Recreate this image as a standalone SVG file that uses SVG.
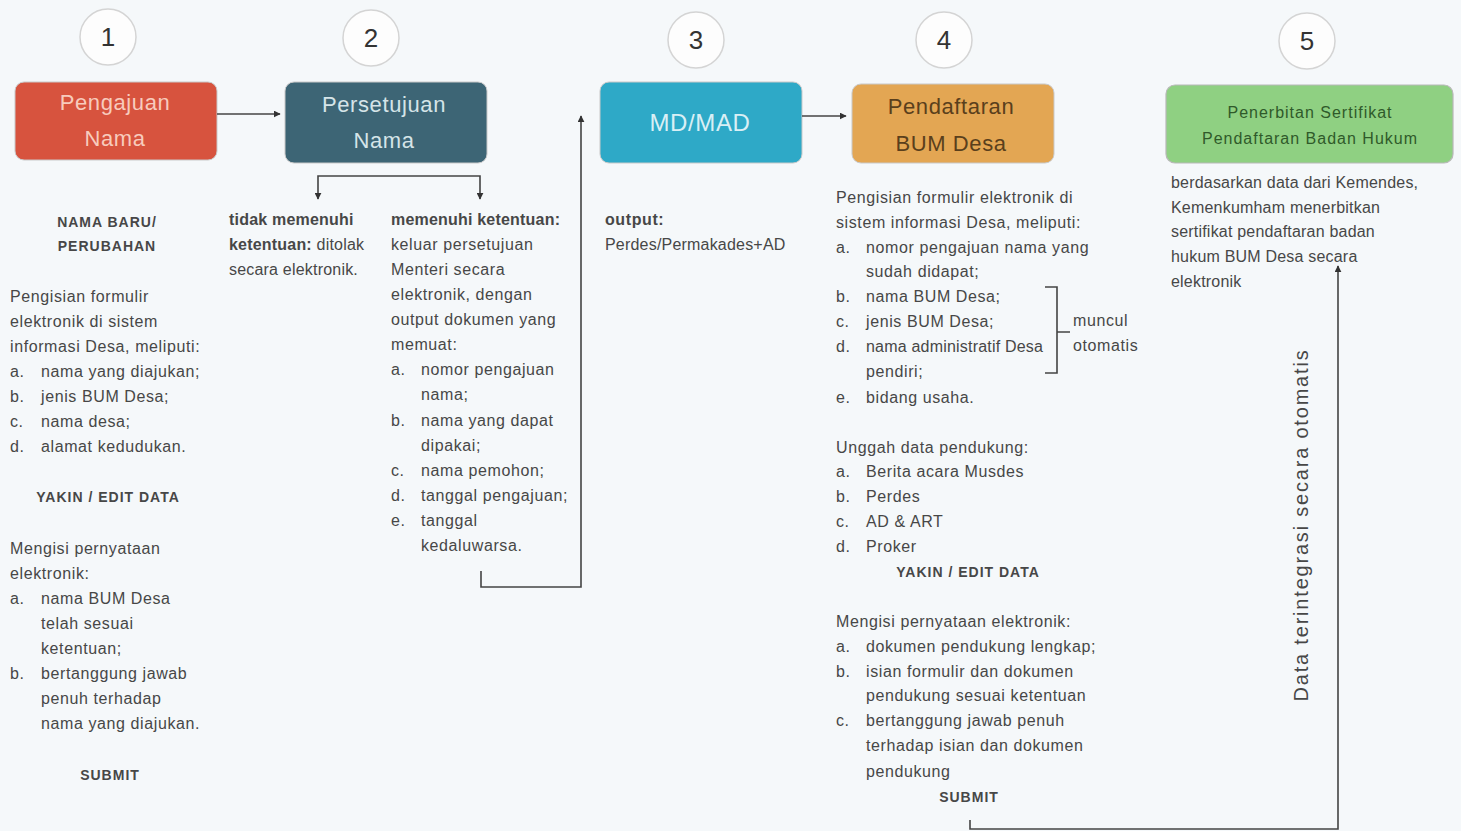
<svg xmlns="http://www.w3.org/2000/svg" width="1461" height="831" viewBox="0 0 1461 831">
<defs>
<style>
.t{font-family:"Liberation Sans",Arial,sans-serif;font-size:16px;letter-spacing:0.6px;fill:#474747}
.b{font-weight:bold}
.h{font-size:14px;letter-spacing:1px;font-weight:bold;text-anchor:middle}
.c{text-anchor:middle}
.num{font-family:"Liberation Sans",Arial,sans-serif;font-size:26px;fill:#333;text-anchor:middle}
.circ{fill:#fdfdfd;stroke:#d4d4d4;stroke-width:1.5}
.nt{font-family:"Liberation Sans",Arial,sans-serif;font-size:22px;letter-spacing:0.6px;text-anchor:middle}
.ln{fill:none;stroke:#444;stroke-width:1.6}
</style>
<marker id="ah" viewBox="0 0 10 10" refX="9" refY="5" markerWidth="7" markerHeight="7" orient="auto-start-reverse" markerUnits="userSpaceOnUse">
<path d="M0,0 L10,5 L0,10 z" fill="#333"/>
</marker>
</defs>
<rect width="1461" height="831" fill="#f5f8fa"/>

<g id="badges">
<circle class="circ" cx="108" cy="37" r="28"/><text class="num" x="108" y="46">1</text>
<circle class="circ" cx="371" cy="38" r="28"/><text class="num" x="371" y="47">2</text>
<circle class="circ" cx="696" cy="40" r="28"/><text class="num" x="696" y="49">3</text>
<circle class="circ" cx="944" cy="40" r="28"/><text class="num" x="944" y="49">4</text>
<circle class="circ" cx="1307" cy="41" r="28"/><text class="num" x="1307" y="50">5</text>
</g>

<g id="node1">
<rect x="15" y="82" width="202" height="78" rx="9" fill="#d7533e" stroke="#c9c9c9" stroke-width="1"/>
<text class="nt" x="115" y="110" fill="#f7cbbd">Pengajuan</text>
<text class="nt" x="115" y="146" fill="#f7cbbd">Nama</text>
</g>
<g id="node2">
<rect x="285" y="82" width="202" height="81" rx="9" fill="#3d6575" stroke="#c9c9c9" stroke-width="1"/>
<text class="nt" x="384" y="112" fill="#d5e4e8">Persetujuan</text>
<text class="nt" x="384" y="148" fill="#d5e4e8">Nama</text>
</g>
<g id="node3">
<rect x="600" y="82" width="202" height="81" rx="9" fill="#2ea9c7" stroke="#c9c9c9" stroke-width="1"/>
<text class="nt" x="700" y="131" fill="#d9eff5" style="font-size:24px">MD/MAD</text>
</g>
<g id="node4">
<rect x="852" y="84" width="202" height="79" rx="9" fill="#e3a653" stroke="#c9c9c9" stroke-width="1"/>
<text class="nt" x="951" y="114" fill="#5a3f1c">Pendaftaran</text>
<text class="nt" x="951" y="151" fill="#5a3f1c">BUM Desa</text>
</g>
<g id="node5">
<rect x="1166" y="85" width="287" height="78" rx="9" fill="#8fd082" stroke="#b8b8b8" stroke-width="1.2"/>
<text class="nt" x="1310" y="118" fill="#2f5a2a" style="font-size:16px;letter-spacing:1px">Penerbitan Sertifikat</text>
<text class="nt" x="1310" y="144" fill="#2f5a2a" style="font-size:16px;letter-spacing:1px">Pendaftaran Badan Hukum</text>
</g>

<g id="connectors">
<line class="ln" x1="217" y1="114" x2="280" y2="114" marker-end="url(#ah)"/>
<line class="ln" x1="802" y1="116" x2="846" y2="116" marker-end="url(#ah)"/>
<path class="ln" d="M318,199 V176 H480 V199" marker-start="url(#ah)" marker-end="url(#ah)"/>
<path class="ln" d="M481,571 V587 H581 V116" marker-end="url(#ah)"/>
<path class="ln" d="M970,820 V829 H1338 V266" marker-end="url(#ah)"/>
<path class="ln" d="M1045,287 H1057 V373 H1045 M1057,332 H1070" stroke-width="1.3"/>
</g>

<g id="col1">
<text class="t h" x="107" y="227">NAMA BARU/</text>
<text class="t h" x="107" y="251">PERUBAHAN</text>
<text class="t" x="10" y="302">Pengisian formulir</text>
<text class="t" x="10" y="327">elektronik di sistem</text>
<text class="t" x="10" y="352">informasi Desa, meliputi:</text>
<text class="t" x="10" y="377">a.</text><text class="t" x="41" y="377">nama yang diajukan;</text>
<text class="t" x="10" y="402">b.</text><text class="t" x="41" y="402">jenis BUM Desa;</text>
<text class="t" x="10" y="427">c.</text><text class="t" x="41" y="427">nama desa;</text>
<text class="t" x="10" y="452">d.</text><text class="t" x="41" y="452">alamat kedudukan.</text>
<text class="t h" x="108" y="502">YAKIN / EDIT DATA</text>
<text class="t" x="10" y="554">Mengisi pernyataan</text>
<text class="t" x="10" y="579">elektronik:</text>
<text class="t" x="10" y="604">a.</text><text class="t" x="41" y="604">nama BUM Desa</text>
<text class="t" x="41" y="629">telah sesuai</text>
<text class="t" x="41" y="654">ketentuan;</text>
<text class="t" x="10" y="679">b.</text><text class="t" x="41" y="679">bertanggung jawab</text>
<text class="t" x="41" y="704">penuh terhadap</text>
<text class="t" x="41" y="729">nama yang diajukan.</text>
<text class="t h" x="110" y="780">SUBMIT</text>
</g>

<g id="col2">
<text class="t b" x="229" y="225" style="letter-spacing:0.2px">tidak memenuhi</text>
<text class="t" x="229" y="250" style="letter-spacing:0.2px"><tspan class="b">ketentuan:</tspan> ditolak</text>
<text class="t" x="229" y="275" style="letter-spacing:0.2px">secara elektronik.</text>
<text class="t b" x="391" y="225" style="letter-spacing:0.2px">memenuhi ketentuan:</text>
<text class="t" x="391" y="250">keluar persetujuan</text>
<text class="t" x="391" y="275">Menteri secara</text>
<text class="t" x="391" y="300">elektronik, dengan</text>
<text class="t" x="391" y="325">output dokumen yang</text>
<text class="t" x="391" y="350">memuat:</text>
<text class="t" x="391" y="375">a.</text><text class="t" x="421" y="375">nomor pengajuan</text>
<text class="t" x="421" y="400">nama;</text>
<text class="t" x="391" y="426">b.</text><text class="t" x="421" y="426">nama yang dapat</text>
<text class="t" x="421" y="451">dipakai;</text>
<text class="t" x="391" y="476">c.</text><text class="t" x="421" y="476">nama pemohon;</text>
<text class="t" x="391" y="501">d.</text><text class="t" x="421" y="501">tanggal pengajuan;</text>
<text class="t" x="391" y="526">e.</text><text class="t" x="421" y="526">tanggal</text>
<text class="t" x="421" y="551">kedaluwarsa.</text>
</g>

<g id="col3">
<text class="t b" x="605" y="225">output:</text>
<text class="t" x="605" y="250" style="letter-spacing:0.2px">Perdes/Permakades+AD</text>
</g>

<g id="col4">
<text class="t" x="836" y="203">Pengisian formulir elektronik di</text>
<text class="t" x="836" y="228">sistem informasi Desa, meliputi:</text>
<text class="t" x="836" y="253">a.</text><text class="t" x="866" y="253">nomor pengajuan nama yang</text>
<text class="t" x="866" y="277">sudah didapat;</text>
<text class="t" x="836" y="302">b.</text><text class="t" x="866" y="302">nama BUM Desa;</text>
<text class="t" x="836" y="327">c.</text><text class="t" x="866" y="327">jenis BUM Desa;</text>
<text class="t" x="836" y="352">d.</text><text class="t" x="866" y="352" style="letter-spacing:0.2px">nama administratif Desa</text>
<text class="t" x="866" y="377">pendiri;</text>
<text class="t" x="836" y="403">e.</text><text class="t" x="866" y="403">bidang usaha.</text>
<text class="t" x="1073" y="326">muncul</text>
<text class="t" x="1073" y="351">otomatis</text>
<text class="t" x="836" y="453">Unggah data pendukung:</text>
<text class="t" x="836" y="477">a.</text><text class="t" x="866" y="477">Berita acara Musdes</text>
<text class="t" x="836" y="502">b.</text><text class="t" x="866" y="502">Perdes</text>
<text class="t" x="836" y="527">c.</text><text class="t" x="866" y="527">AD &amp; ART</text>
<text class="t" x="836" y="552">d.</text><text class="t" x="866" y="552">Proker</text>
<text class="t h" x="968" y="577">YAKIN / EDIT DATA</text>
<text class="t" x="836" y="627">Mengisi pernyataan elektronik:</text>
<text class="t" x="836" y="652">a.</text><text class="t" x="866" y="652">dokumen pendukung lengkap;</text>
<text class="t" x="836" y="677">b.</text><text class="t" x="866" y="677">isian formulir dan dokumen</text>
<text class="t" x="866" y="701">pendukung sesuai ketentuan</text>
<text class="t" x="836" y="726">c.</text><text class="t" x="866" y="726">bertanggung jawab penuh</text>
<text class="t" x="866" y="751">terhadap isian  dan dokumen</text>
<text class="t" x="866" y="777">pendukung</text>
<text class="t h" x="969" y="802">SUBMIT</text>
</g>

<g id="col5">
<text class="t" x="1171" y="188" style="letter-spacing:0.2px">berdasarkan data dari Kemendes,</text>
<text class="t" x="1171" y="213" style="letter-spacing:0.2px">Kemenkumham menerbitkan</text>
<text class="t" x="1171" y="237" style="letter-spacing:0.2px">sertifikat pendaftaran badan</text>
<text class="t" x="1171" y="262" style="letter-spacing:0.2px">hukum BUM Desa secara</text>
<text class="t" x="1171" y="287" style="letter-spacing:0.2px">elektronik</text>
<text class="t c" transform="translate(1308,525) rotate(-90)" style="font-size:20px;letter-spacing:1.8px">Data terintegrasi secara otomatis</text>
</g>
</svg>
